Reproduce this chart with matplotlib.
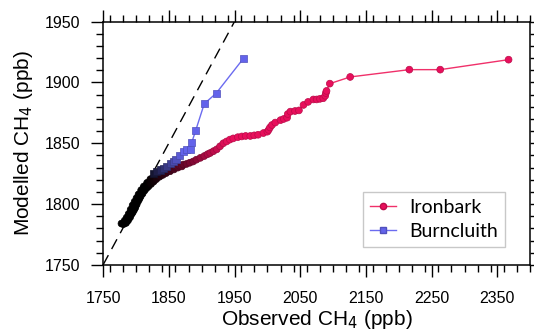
import numpy as np
import matplotlib
matplotlib.use("Agg")
import matplotlib.pyplot as plt
from matplotlib.lines import Line2D
from matplotlib.ticker import MultipleLocator

# Ironbark: observed vs modelled CH4 (ppb)
ironbark_obs = [1778, 1780, 1782, 1784, 1786, 1787, 1789, 1790, 1791, 1793,
                1794, 1796, 1797, 1799, 1800, 1802, 1803, 1805, 1807, 1809,
                1811, 1813, 1815, 1818, 1821, 1824, 1827, 1830, 1834, 1838,
                1842, 1846, 1850, 1855, 1860, 1866, 1872, 1877, 1882, 1887,
                1892, 1898, 1904, 1909, 1913, 1918, 1923, 1928, 1933, 1938,
                1943, 1948, 1955, 1961, 1967, 1974, 1980, 1986, 1994, 2000,
                2002, 2004, 2007, 2012, 2020, 2025, 2030, 2031, 2035, 2042,
                2048, 2055, 2062, 2070, 2075, 2080, 2085, 2088, 2089, 2090,
                2095, 2126, 2216, 2263, 2367]
ironbark_mod = [1784, 1784, 1784.3, 1785, 1786, 1787, 1789, 1790, 1791, 1793,
                1794, 1795.5, 1796.5, 1798.5, 1800, 1802.5, 1804, 1806.5, 1808.5, 1810.5,
                1812.5, 1813.5, 1814.5, 1816, 1818, 1820, 1821.5, 1823, 1824.5, 1825.5,
                1826.5, 1827.5, 1828.5, 1829.5, 1830.5, 1831.5, 1832.5, 1833, 1834, 1835,
                1836.5, 1838, 1839.5, 1841, 1842, 1843.5, 1845, 1847.5, 1850, 1851.5,
                1853, 1854, 1855, 1855.6, 1856, 1856, 1856.5, 1857, 1858.4, 1859.5,
                1861, 1863, 1865, 1867, 1869, 1870, 1871, 1874, 1876, 1876.5,
                1877, 1881.5, 1884, 1886, 1886, 1886.5, 1887, 1889, 1891.3, 1893,
                1899, 1904.5, 1910.5, 1910.5, 1918.7]

# the spread of the dense low-value cloud (both edges of the band)
ironbark_obs_cloud = [1781, 1785, 1788, 1791, 1793, 1795, 1797, 1799, 1801, 1803,
                      1805, 1807, 1810, 1813, 1816, 1819, 1823, 1827, 1831, 1836,
                      1841, 1846, 1852, 1858, 1864, 1870,
                      1783, 1786, 1789, 1792, 1795, 1798, 1801, 1804, 1808, 1812,
                      1817, 1822]
ironbark_mod_cloud = [1783.5, 1784.5, 1786.5, 1789, 1791.5, 1793, 1795, 1797, 1799.5, 1802,
                      1804, 1806, 1808.5, 1811, 1813, 1814.5, 1816.5, 1818.5, 1820.5, 1822.5,
                      1824, 1825.5, 1827, 1828.5, 1830, 1831,
                      1786.5, 1789, 1792, 1795.5, 1799, 1802, 1805, 1808, 1811.5, 1814.5,
                      1817.5, 1820.5]

# Burncluith
burn_obs = [1827, 1832, 1837, 1842, 1847, 1852, 1857, 1861, 1867, 1873,
            1877, 1883, 1885, 1891, 1904, 1922, 1964]
burn_mod = [1825, 1826.5, 1828, 1829.5, 1831, 1833, 1835, 1837, 1839.7, 1843,
            1844.7, 1845, 1850.7, 1860.6, 1882.5, 1891, 1920]

x_ticks = [1750, 1850, 1950, 2050, 2150, 2250, 2350]
y_ticks = [1750, 1800, 1850, 1900, 1950]

iron_col = np.array([0.91, 0.06, 0.36])
burn_col = np.array([0.39, 0.39, 0.92])


def shade(obs, col, lo, hi):
    t = np.clip((np.array(obs) - lo) / (hi - lo), 0, 1)[:, None]
    return t * col


io = np.concatenate([ironbark_obs, ironbark_obs_cloud])
im = np.concatenate([ironbark_mod, ironbark_mod_cloud])
order = np.argsort(io, kind='stable')
io, im = io[order], im[order]

plt.rcParams['font.family'] = ['Liberation Sans', 'DejaVu Sans']
fig = plt.figure(figsize=(5.34, 3.32), dpi=100)
ax = fig.add_axes([0.193, 0.202, 0.800, 0.733])

ax.plot([1750, 2000], [1750, 2000], color='black', lw=1, dashes=(8, 5), zorder=1)

ax.plot(ironbark_obs, ironbark_mod, color='#F0306A', lw=1, zorder=2)
ax.scatter(io, im, s=24, marker='o',
           c=shade(io, iron_col, 1818, 1940),
           edgecolors=shade(io, iron_col * 0.8, 1818, 1940),
           linewidths=0.5, zorder=3)

ax.plot(burn_obs, burn_mod, color='#6B6BF0', lw=1, zorder=4)
ax.scatter(burn_obs, burn_mod, s=26, marker='s',
           c=shade(burn_obs, burn_col, 1815, 1872),
           edgecolors=shade(burn_obs, burn_col * 0.8, 1815, 1872),
           linewidths=0.5, zorder=5)

ax.set_xlim(1750, 2400)
ax.set_ylim(1750, 1950)
ax.set_xticks(x_ticks)
ax.set_yticks(y_ticks)
ax.xaxis.set_minor_locator(MultipleLocator(20))
ax.yaxis.set_minor_locator(MultipleLocator(10))
ax.tick_params(which='both', direction='out', top=True, right=True,
               labelsize=11.5, width=1, colors='black')
ax.tick_params(which='major', length=8.5)
ax.tick_params(which='minor', length=5)
ax.tick_params(axis='x', which='major', pad=10)
ax.tick_params(axis='y', which='major', pad=8)
for sp in ax.spines.values():
    sp.set_linewidth(1.1)

ax.set_xlabel('Observed CH$_4$ (ppb)', fontsize=15, labelpad=2)
ax.set_ylabel('Modelled CH$_4$ (ppb)', fontsize=15, labelpad=7)

handles = [
    Line2D([], [], color='#F0306A', marker='o', markersize=4.5,
           markerfacecolor=iron_col, markeredgecolor=iron_col * 0.8, lw=1),
    Line2D([], [], color='#6B6BF0', marker='s', markersize=4.5,
           markerfacecolor=burn_col, markeredgecolor=burn_col * 0.8, lw=1),
]
leg = ax.legend(handles, ['Ironbark', 'Burncluith'], loc='lower right',
                bbox_to_anchor=(0.963, 0.035), fancybox=False, framealpha=1,
                edgecolor='#C8C8C8', prop={'family': 'Lato', 'size': 14},
                handlelength=1.3, handletextpad=0.7, borderpad=0.35,
                labelspacing=0.35)
leg.get_frame().set_linewidth(1)

fig.savefig('out.png', dpi=100)
